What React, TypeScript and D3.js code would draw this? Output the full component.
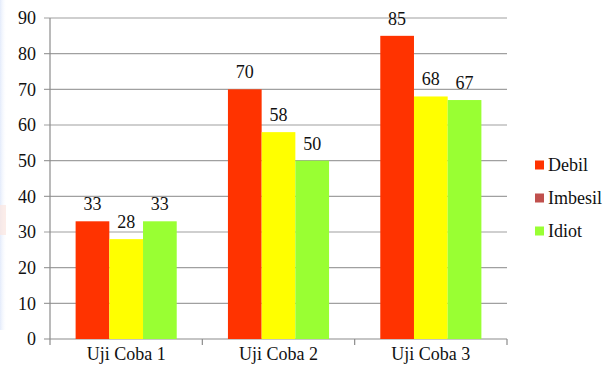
import React from "react";
import * as d3 from "d3";

const categories = ["Uji Coba 1", "Uji Coba 2", "Uji Coba 3"];
const seriesNames = ["Debil", "Imbesil", "Idiot"];
const debil = [33, 70, 85];
const imbesil = [28, 58, 68];
const idiot = [33, 50, 67];
const yTicks = [0, 10, 20, 30, 40, 50, 60, 70, 80, 90];

const barColors = ["#ff3300", "#ffff00", "#99ff33"];
const legendColors = ["#ff3300", "#c0504d", "#99ff33"];

const font = `"Liberation Serif", "Times New Roman", serif`;
const textColor = "#111111";
const ts: React.CSSProperties = { fontFamily: font, fontSize: 18 };

export default function App() {
  const W = 611, H = 378;
  const left = 50, right = 507, top = 18, bottom = 339;
  const series = [debil, imbesil, idiot];
  const x = d3.scaleBand<string>().domain(categories).range([left, right]).paddingInner(0).paddingOuter(0);
  const x1 = d3.scaleBand<string>().domain(seriesNames).range([0, x.bandwidth()]).paddingInner(0).paddingOuter(0.76);
  const y = d3.scaleLinear().domain([0, 90]).range([bottom, top]);
  const boundaries = [left, ...categories.map((c) => (x(c) as number) + x.bandwidth())];

  return (
    <svg width={W} height={H} style={{ position: "absolute", left: 0, top: 0, background: "#fff" }}>
      <defs>
        <linearGradient id="wm" x1="0" x2="1" y1="0" y2="0">
          <stop offset="0" stopColor="#e3ebfb" />
          <stop offset="1" stopColor="#ffffff" stopOpacity="0" />
        </linearGradient>
      </defs>
      <rect x={0} y={0} width={7} height={330} fill="url(#wm)" />
      <rect x={0} y={205} width={6} height={30} fill="#fbe6df" opacity={0.7} />
      {yTicks.filter((t) => t > 0).map((t) => (
        <line key={t} x1={left - 6} x2={right} y1={y(t)} y2={y(t)} stroke="#a0a0a0" strokeWidth={1.2} />
      ))}
      <line x1={left} x2={left} y1={top} y2={bottom} stroke="#8c8c8c" strokeWidth={1.2} />
      <line x1={left - 6} x2={right} y1={bottom} y2={bottom} stroke="#8c8c8c" strokeWidth={1.2} />
      {boundaries.map((b, i) => (
        <line key={i} x1={b} x2={b} y1={bottom} y2={bottom + 6} stroke="#8c8c8c" strokeWidth={1.2} />
      ))}
      {yTicks.map((t) => (
        <text key={t} x={36} y={y(t)} dy="0.35em" textAnchor="end" style={ts} fill={textColor}>{t}</text>
      ))}
      {categories.map((c, ci) => (
        <g key={c} transform={`translate(${x(c)},0)`}>
          {seriesNames.map((s, si) => {
            const v = series[si][ci];
            const bx = x1(s) as number;
            return (
              <g key={s}>
                <rect x={bx} y={y(v)} width={x1.bandwidth()} height={bottom - y(v)} fill={barColors[si]} />
                <text x={bx + x1.bandwidth() / 2} y={y(v) - 11} textAnchor="middle" style={ts} fill={textColor}>{v}</text>
              </g>
            );
          })}
        </g>
      ))}
      {categories.map((c) => (
        <text key={c} x={(x(c) as number) + x.bandwidth() / 2} y={360} textAnchor="middle" style={ts} fill={textColor}>{c}</text>
      ))}
      {seriesNames.map((s, i) => (
        <g key={s} transform={`translate(535,${165 + i * 33})`}>
          <rect x={0} y={-4.5} width={9} height={9} fill={legendColors[i]} />
          <text x={13} y={0} dy="0.35em" style={ts} fill={textColor}>{s}</text>
        </g>
      ))}
    </svg>
  );
}
